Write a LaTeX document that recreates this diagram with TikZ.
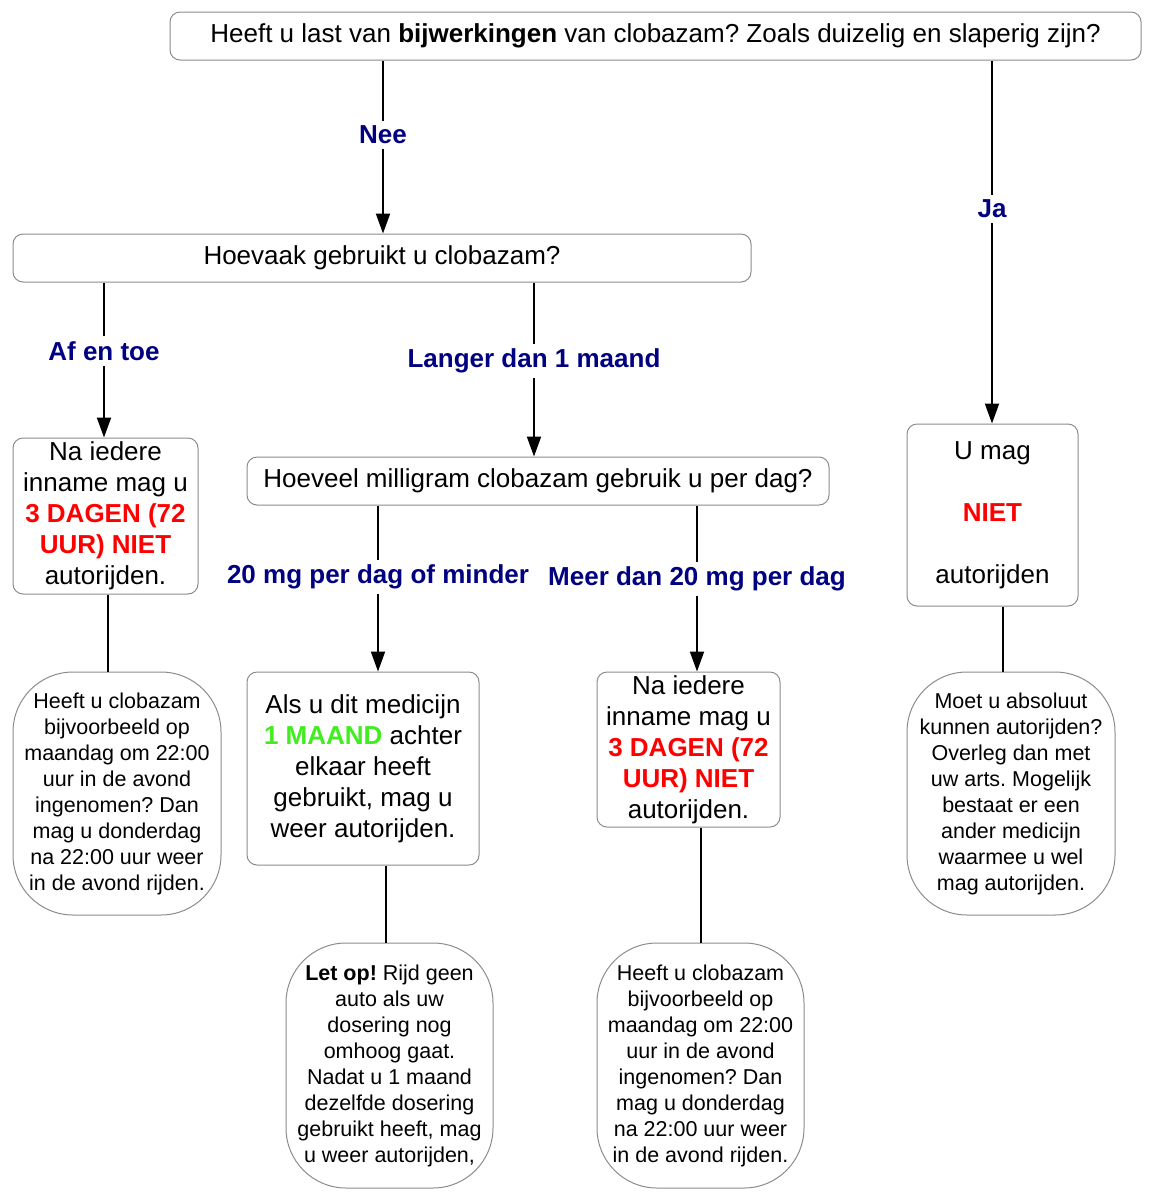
\documentclass[tikz,border=0pt]{standalone}
\usepackage{fontspec}
\setmainfont{Liberation Sans}
\usetikzlibrary{arrows.meta}
\frenchspacing

\definecolor{labelblue}{RGB}{0,0,128}
\definecolor{warnred}{RGB}{255,0,0}
\definecolor{okgreen}{RGB}{64,238,30}
\definecolor{framegray}{RGB}{140,140,140}
\newcommand{\boxfont}{\fontsize{26}{31}\selectfont}
\newcommand{\notefont}{\fontsize{21.5}{26}\selectfont}

\begin{document}
\begin{tikzpicture}[x=1pt, y=-1pt,
    flowbox/.style={draw=framegray, line width=1pt, rounded corners=10pt,
    fill=white, align=center, inner sep=0pt, font=\boxfont},
    notebox/.style={draw=framegray, line width=1pt, rounded corners=60pt,
    fill=white, align=center, inner sep=0pt, font=\notefont},
    edgelabel/.style={fill=white, inner sep=5pt, text=labelblue,
    font=\boxfont\bfseries},
    arrowline/.style={line width=2pt, -{Triangle[length=20pt, width=14pt]}},
    plainline/.style={line width=2pt}]

    \useasboundingbox (0,0) rectangle (1153,1200);

    % Questions
    \node[flowbox, minimum width=971pt, minimum height=48pt] (effects) at (655.5, 36)
    {Heeft u last van \textbf{bijwerkingen} van clobazam? Zoals duizelig en slaperig zijn?};
    \node[flowbox, minimum width=738pt, minimum height=48pt] (often) at (382, 258)
    {Hoevaak gebruikt u clobazam?};
    \node[flowbox, minimum width=582pt, minimum height=48pt] (dose) at (538, 481)
    {Hoeveel milligram clobazam gebruik u per dag?};

    % Answers
    \node[flowbox, minimum width=185pt, minimum height=156pt] (sometimes) at (105.5, 516)
    {Na iedere\\inname mag u\\\textcolor{warnred}{\bfseries 3 DAGEN (72}\\
    \textcolor{warnred}{\bfseries UUR) NIET}\\autorijden.};
    \node[flowbox, minimum width=171pt, minimum height=182pt] (nodrive) at (992.5, 515)
    {U mag\\[31pt]\textcolor{warnred}{\bfseries NIET}\\[31pt]autorijden};
    \node[flowbox, minimum width=232pt, minimum height=193pt] (lowdose) at (363, 768.5)
    {Als u dit medicijn\\\textcolor{okgreen}{\bfseries 1 MAAND} achter\\elkaar heeft\\
    gebruikt, mag u\\weer autorijden.};
    \node[flowbox, minimum width=183pt, minimum height=155pt] (highdose) at (688.5, 749.5)
    {Na iedere\\inname mag u\\\textcolor{warnred}{\bfseries 3 DAGEN (72}\\
    \textcolor{warnred}{\bfseries UUR) NIET}\\autorijden.};

    % Notes
    \node[notebox, minimum width=208pt, minimum height=243pt] (sometimesnote) at (117, 793.5)
    {Heeft u clobazam\\bijvoorbeeld op\\maandag om 22:00\\uur in de avond\\
    ingenomen? Dan\\mag u donderdag\\na 22:00 uur weer\\in de avond rijden.};
    \node[notebox, minimum width=207pt, minimum height=245pt] (lowdosenote) at (389.5, 1065.5)
    {\textbf{Let op!} Rijd geen\\auto als uw\\dosering nog\\omhoog gaat.\\
    Nadat u 1 maand\\dezelfde dosering\\gebruikt heeft, mag\\u weer autorijden,};
    \node[notebox, minimum width=207pt, minimum height=245pt] (highdosenote) at (700.5, 1065.5)
    {Heeft u clobazam\\bijvoorbeeld op\\maandag om 22:00\\uur in de avond\\
    ingenomen? Dan\\mag u donderdag\\na 22:00 uur weer\\in de avond rijden.};
    \node[notebox, minimum width=208pt, minimum height=243pt] (nodrivenote) at (1011, 793.5)
    {Moet u absoluut\\kunnen autorijden?\\Overleg dan met\\uw arts. Mogelijk\\
    bestaat er een\\ander medicijn\\waarmee u wel\\mag autorijden.};

    % Edge labels
    \node[edgelabel] (nee) at (383, 135) {Nee};
    \node[edgelabel] (ja) at (992, 209) {Ja};
    \node[edgelabel] (afentoe) at (104, 351) {Af en toe};
    \node[edgelabel] (langer) at (534, 361) {Langer dan 1 maand};
    \node[edgelabel] (minder) at (378, 577) {20 mg per dag of minder};
    \node[edgelabel] (meer) at (697, 579) {Meer dan 20 mg per dag};

    % Arrows
    \draw[plainline] (effects.south -| nee) -- (nee.north);
    \draw[arrowline] (nee.south) -- (often.north -| nee);
    \draw[plainline] (effects.south -| ja) -- (ja.north);
    \draw[arrowline] (ja.south) -- (nodrive.north -| ja);
    \draw[plainline] (often.south -| afentoe) -- (afentoe.north);
    \draw[arrowline] (afentoe.south) -- (sometimes.north -| afentoe);
    \draw[plainline] (often.south -| langer) -- (langer.north);
    \draw[arrowline] (langer.south) -- (dose.north -| langer);
    \draw[plainline] (dose.south -| minder) -- (minder.north);
    \draw[arrowline] (minder.south) -- (lowdose.north -| minder);
    \draw[plainline] (dose.south -| meer) -- (meer.north);
    \draw[arrowline] (meer.south) -- (highdose.north -| meer);

    % Links to notes
    \draw[plainline] ([xshift=2pt]sometimes.south) -- ([xshift=2pt]sometimes.south |- sometimesnote.north);
    \draw[plainline] ([xshift=23pt]lowdose.south) -- ([xshift=23pt]lowdose.south |- lowdosenote.north);
    \draw[plainline] (highdose.south -| highdosenote) -- (highdosenote.north);
    \draw[plainline] ([xshift=10pt]nodrive.south) -- ([xshift=10pt]nodrive.south |- nodrivenote.north);

\end{tikzpicture}
\end{document}
